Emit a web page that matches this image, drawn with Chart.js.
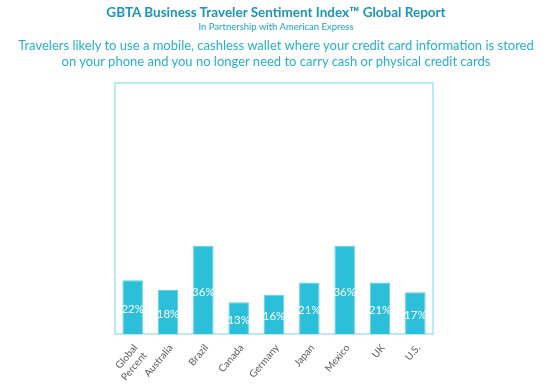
<!DOCTYPE html>
<html>
<head>
<meta charset="utf-8">
<script src="https://cdn.jsdelivr.net/npm/chart.js@4"></script>
<style>
html,body{margin:0;padding:0;background:#fff;}
#wrap{position:relative;width:552px;height:389px;overflow:hidden;font-family:"Open Sans",Lato,sans-serif;}
#t1{position:absolute;top:4px;left:0;width:552px;text-align:center;font-family:Lato,"Open Sans",sans-serif;font-weight:bold;font-size:13.5px;color:#1b95b8;}
#t2{position:absolute;top:21px;left:0;width:552px;text-align:center;font-family:Lato,sans-serif;font-size:9.5px;color:#1fa3c4;}
#t3{position:absolute;top:37px;left:0;width:552px;text-align:center;font-family:Lato,sans-serif;font-size:13px;line-height:16px;color:#26b0cf;}
canvas{position:absolute;left:0;top:0;}
</style>
</head>
<body>
<div id="wrap">
<canvas id="c" width="552" height="389"></canvas>
<div id="t1">GBTA Business Traveler Sentiment Index™ Global Report</div>
<div id="t2">In Partnership with American Express</div>
<div id="t3">Travelers likely to use a mobile, cashless wallet where your credit card information is stored<br>on your phone and you no longer need to carry cash or physical credit cards</div>
</div>
<script>
const categories = [["Global","Percent"],"Australia","Brazil","Canada","Germany","Japan","Mexico","UK","U.S."];
const values = [22,18,36,13,16,21,36,21,17];
const valueLabels = ["22%","18%","36%","13%","16%","21%","36%","21%","17%"];

const boxPlugin = {
  id:'box',
  beforeDatasetsDraw(chart){
    const {ctx, chartArea:a} = chart;
    ctx.save();
    ctx.strokeStyle = '#bde9f3';
    ctx.lineWidth = 2;
    ctx.strokeRect(a.left, a.top, a.right-a.left, a.bottom-a.top);
    ctx.restore();
  }
};
const labelPlugin = {
  id:'vlabels',
  afterDatasetsDraw(chart){
    const {ctx} = chart;
    const meta = chart.getDatasetMeta(0);
    ctx.save();
    ctx.fillStyle = '#ffffff';
    ctx.font = '11.5px Lato, "Open Sans", sans-serif';
    ctx.textAlign = 'center';
    ctx.textBaseline = 'middle';
    meta.data.forEach((bar,i)=>{
      const y = (bar.y + bar.base)/2 + 2;
      ctx.fillText(valueLabels[i], bar.x, y);
    });
    ctx.restore();
  }
};

new Chart(document.getElementById('c'), {
  type:'bar',
  data:{labels:categories, datasets:[{data:values, backgroundColor:'#2bbfda', borderColor:'#5fd0e6', borderWidth:1, categoryPercentage:1, barPercentage:0.58}]},
  options:{
    responsive:false, animation:false,
    layout:{padding:{left:115,right:119,top:83,bottom:0}},
    plugins:{legend:{display:false}, tooltip:{enabled:false}},
    scales:{
      y:{display:false, min:0, max:102.5},
      x:{
        grid:{display:false},
        border:{display:false},
        ticks:{color:'#5a5a5a', font:{family:'Lato, "Open Sans", sans-serif', size:10}, maxRotation:50, minRotation:50, padding:0, labelOffset:3},
        afterFit(s){ s.height = 55; }
      }
    }
  },
  plugins:[boxPlugin,labelPlugin]
});
</script>
</body>
</html>
